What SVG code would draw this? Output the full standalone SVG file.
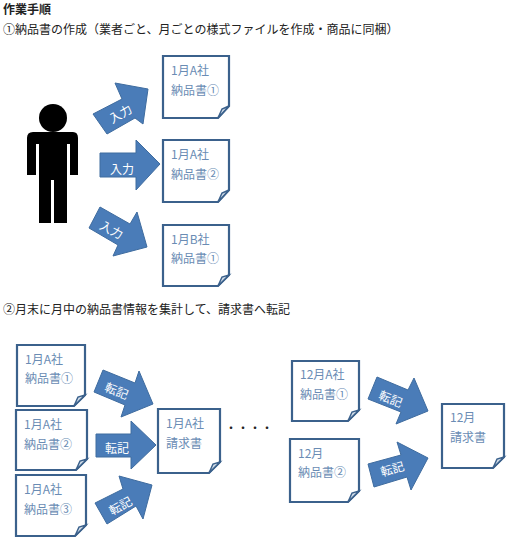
<svg xmlns="http://www.w3.org/2000/svg" width="509" height="548" viewBox="0 0 509 548">
<style>
text{font-family:"Noto Sans CJK JP","Noto Sans CJK SC",sans-serif}
.h{font-size:12px;fill:#222}
.d{fill:#fff;stroke:#3b618c;stroke-width:2.2}
.f{fill:#d3deea;stroke:#3b618c;stroke-width:1.5}
.t{font-size:12px;fill:#6a8cb4}
.a{fill:#4a7cb8;stroke:#3f6c9f;stroke-width:1}
.l{font-size:12px;fill:#fff;text-anchor:middle;dominant-baseline:central}
</style>
<rect width="509" height="548" fill="#fff"/>
<text class="h" x="3" y="14" font-weight="700">作業手順</text>
<text class="h" x="3" y="34">①納品書の作成（業者ごと、月ごとの様式ファイルを作成・商品に同梱）</text>
<text class="h" x="3" y="314">②月末に月中の納品書情報を集計して、請求書へ転記</text>
<g id="person" fill="#000">
<circle cx="53" cy="118" r="14"/>
<path d="M33 132H73Q78 132 78 138V175H70V144H67V223H54V180H51V223H39V144H36V175H27V138Q27 132 33 132Z"/>
</g>
<g id="connectors">
<polygon class="a" points="93,114 122,99 115,83 148,89 143,124 135,118 107,134"/>
<polygon class="a" points="100,153 136,153 136,140 160,164 136,190 136,177 100,177"/>
<polygon class="a" points="89,228 100,207 130,224 137,212 147,247 113,256 118,245"/>
<polygon class="a" points="94,392 103,370 135,383 139,371 153,404 121,417 125,405"/>
<polygon class="a" points="96,434 131,434 131,421 156,445 131,469 131,457 96,457"/>
<polygon class="a" points="95,503 123,489 119,476 152,485 143,519 136,506 107,524"/>
<polygon class="a" points="368,399 377,377 408,390 414,378 428,411 396,424 401,412"/>
<polygon class="a" points="368,464 401,455 397,442 428,458 411,490 407,477 374,487"/>
<text class="l" transform="translate(120 113) rotate(-30)">入力</text>
<text class="l" transform="translate(122 168)">入力</text>
<text class="l" transform="translate(112 229) rotate(28)">入力</text>
<text class="l" transform="translate(117 390) rotate(22)">転記</text>
<text class="l" transform="translate(117 447)">転記</text>
<text class="l" transform="translate(120 505) rotate(-28)">転記</text>
<text class="l" transform="translate(391 398) rotate(22)">転記</text>
<text class="l" transform="translate(392 468) rotate(-16)">転記</text>
</g>
<g id="doc1"><path class="d" d="M163 56H229V106L218 118H163Z"/><path class="f" d="M218 118L222 109L229 106Z"/><text class="t" x="171" y="75">1月A社</text><text class="t" x="171" y="95">納品書①</text></g>
<g id="doc2"><path class="d" d="M163 140H229V190L218 202H163Z"/><path class="f" d="M218 202L222 193L229 190Z"/><text class="t" x="171" y="159">1月A社</text><text class="t" x="171" y="179">納品書②</text></g>
<g id="doc3"><path class="d" d="M163 225H229V275L218 286H163Z"/><path class="f" d="M218 286L222 277L229 275Z"/><text class="t" x="171" y="244">1月B社</text><text class="t" x="171" y="263">納品書①</text></g>
<g id="doc4"><path class="d" d="M17 345H85V395L74 406H17Z"/><path class="f" d="M74 406L78 397L85 395Z"/><text class="t" x="25" y="364">1月A社</text><text class="t" x="25" y="383">納品書①</text></g>
<g id="doc5"><path class="d" d="M16 410H87V459L76 470H16Z"/><path class="f" d="M76 470L80 461L87 459Z"/><text class="t" x="24" y="429">1月A社</text><text class="t" x="24" y="449">納品書②</text></g>
<g id="doc6"><path class="d" d="M16 475H86V525L75 536H16Z"/><path class="f" d="M75 536L79 527L86 525Z"/><text class="t" x="24" y="494">1月A社</text><text class="t" x="24" y="514">納品書③</text></g>
<g id="inv1"><path class="d" d="M158 409H220V462L209 473H158Z"/><path class="f" d="M209 473L213 464L220 462Z"/><text class="t" x="166" y="428">1月A社</text><text class="t" x="166" y="448">請求書</text></g>
<g id="doc7"><path class="d" d="M292 361H359V410L348 421H292Z"/><path class="f" d="M348 421L352 412L359 410Z"/><text class="t" x="300" y="379">12月A社</text><text class="t" x="300" y="399">納品書①</text></g>
<g id="doc8"><path class="d" d="M290 439H359V491L348 502H290Z"/><path class="f" d="M348 502L352 493L359 491Z"/><text class="t" x="298" y="458">12月</text><text class="t" x="298" y="477">納品書②</text></g>
<g id="inv2"><path class="d" d="M442 404H504V457L493 468H442Z"/><path class="f" d="M493 468L497 459L504 457Z"/><text class="t" x="450" y="422">12月</text><text class="t" x="450" y="442">請求書</text></g>
<text class="h" y="433" x="225 237 249 261">・・・・</text>
</svg>
